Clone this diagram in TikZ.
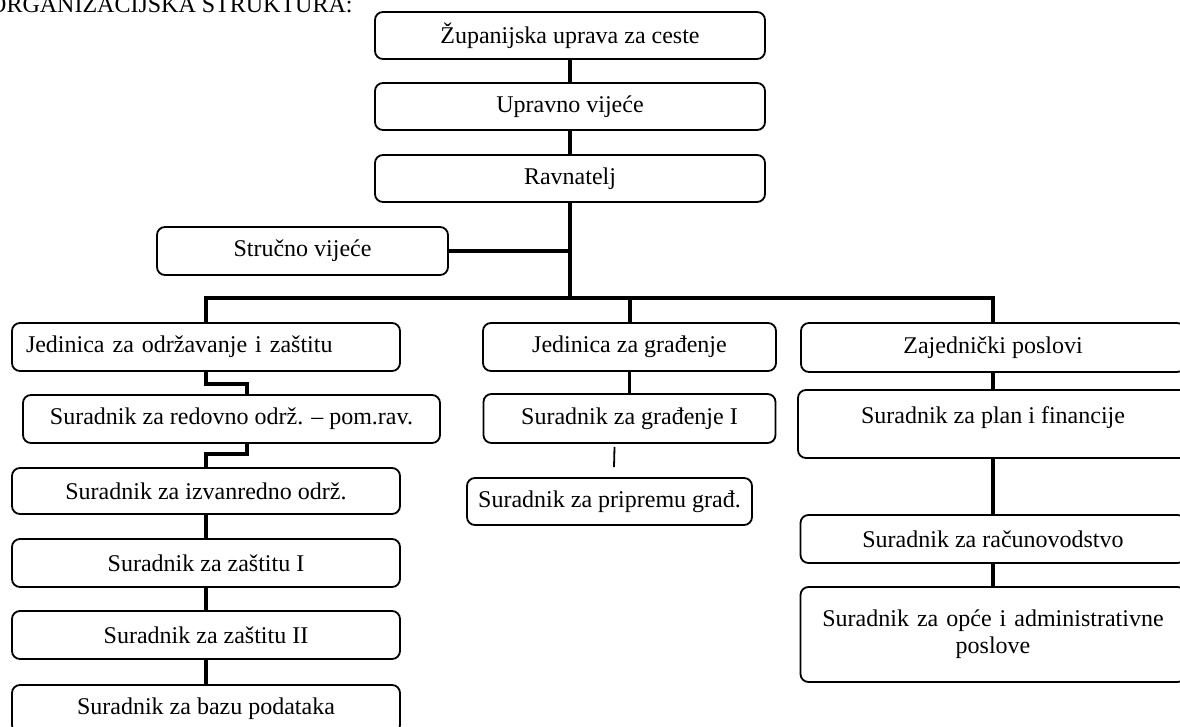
\documentclass[tikz,border=0pt]{standalone}
\usepackage{fontspec}
\setmainfont{Liberation Serif}
\tikzset{
    box/.style={draw, line width=1.8pt, rounded corners=8pt, inner sep=0pt, minimum height=48pt, font=\fontsize{24}{27}\selectfont},
    link/.style={line width=3.5pt},
    bus/.style={line width=4pt},
    thinlink/.style={line width=1.8pt}
}
\begin{document}
\begin{tikzpicture}[x=1pt, y=-1pt]
    \clip (0,0) rectangle (1180,727);
    \coordinate (bus) at (570,298);

    \node[anchor=base west, inner sep=0pt, font=\fontsize{24}{27}\selectfont] (naslov) at (-11,13) {ORGANIZACIJSKA STRUKTURA:};

    \node[box, minimum width=390pt, minimum height=47pt] (zupanija) at (570,35.5) {Županijska uprava za ceste};
    \node[box, minimum width=390pt, minimum height=47pt] (upravno) at (570,106.5) {Upravno vijeće};
    \node[box, minimum width=390pt, minimum height=47pt] (ravnatelj) at (570,178.5) {Ravnatelj};
    \node[box, minimum width=291pt] (strucno) at (302.5,251) {Stručno vijeće};

    \node[box, text width=360pt, inner xsep=14pt, align=left] (odrzavanje) at (206,347) {Jedinica za održavanje i zaštitu};
    \node[box, minimum width=417pt] (redovno) at (231.5,419) {Suradnik za redovno održ. – pom.rav.};
    \node[box, minimum width=388pt, minimum height=46pt] (izvanredno) at (206,491) {Suradnik za izvanredno održ.};
    \node[box, minimum width=388pt] (zastita1) at (206,563) {Suradnik za zaštitu I};
    \node[box, minimum width=388pt] (zastita2) at (206,635) {Suradnik za zaštitu II};
    \node[box, minimum width=388pt] (baza) at (206,709) {Suradnik za bazu podataka};

    \node[box, minimum width=293pt] (gradjenje) at (629.5,347) {Jedinica za građenje};
    \node[box, minimum width=292pt, minimum height=49pt] (gradjenje1) at (629.5,418.5) {Suradnik za građenje I};
    \node[box, minimum width=285pt, minimum height=47pt] (priprema) at (609.5,501.5) {Suradnik za pripremu građ.};

    \node[box, minimum width=384pt, minimum height=49pt] (zajednicki) at (993,347.5) {Zajednički poslovi};
    \node[box, minimum width=390pt, minimum height=68pt, text depth=17pt] (plan) at (993,424) {Suradnik za plan i financije};
    \node[box, minimum width=385pt] (racun) at (993,539) {Suradnik za računovodstvo};
    \node[box, minimum width=385pt, minimum height=95pt, text width=360pt, align=center] (opce) at (993,634.5) {Suradnik za opće i administrativne\\poslove};

    \draw[link] (zupanija) -- (upravno);
    \draw[link] (upravno) -- (ravnatelj);
    \draw[bus] (ravnatelj.south) -- (bus);
    \draw[link] (strucno.east) -- (strucno.east -| bus);
    \draw[bus] (odrzavanje.north) |- (bus) -| (zajednicki.north);
    \draw[bus] (gradjenje.north) -- (gradjenje.north |- bus);

    \draw[link] (odrzavanje.south) -- ++(0,12) -| ([xshift=15.5pt]redovno.north);
    \draw[link] ([xshift=15.5pt]redovno.south) -- ++(0,10) -| (izvanredno.north);
    \draw[link] (izvanredno) -- (zastita1);
    \draw[link] (zastita1) -- (zastita2);
    \draw[link] (zastita2) -- (baza);

    \draw[link] (gradjenje) -- (gradjenje1);
    \draw[thinlink] ([xshift=-15pt, yshift=-3pt]gradjenje1.south) -- ([xshift=4.5pt, yshift=10pt]priprema.north);

    \draw[link] (zajednicki) -- (plan);
    \draw[link] (plan) -- (racun);
    \draw[link] (racun) -- (opce);
\end{tikzpicture}
\end{document}
